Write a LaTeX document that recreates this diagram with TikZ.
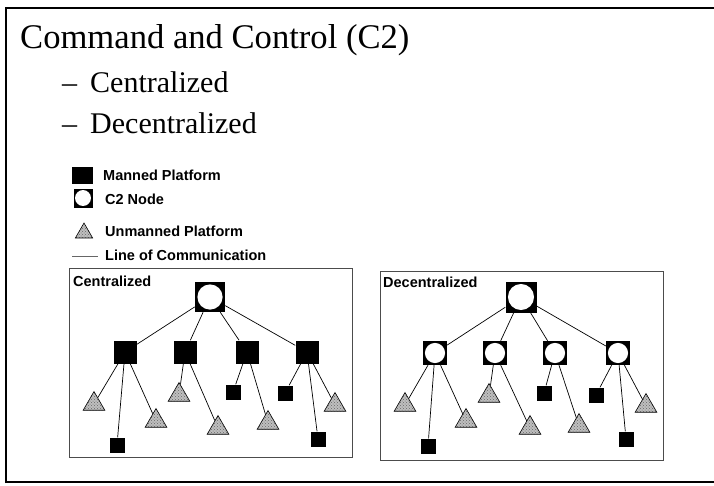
\documentclass[tikz,border=0pt]{standalone}
\usepackage{fontspec}
\setmainfont{Liberation Serif}
\newfontfamily\lsans{Liberation Sans}
\usetikzlibrary{shapes.geometric,patterns}
\tikzset{
  manned/.style={rectangle, fill=black, inner sep=0pt, minimum size=#1},
  manned/.default=15pt,
  c2/.style={rectangle, fill=black, inner sep=0pt, minimum size=#1,
    path picture={\fill[white] (path picture bounding box.center) circle ({0.42*#1});}},
  c2/.default=24pt,
  unm/.style={regular polygon, regular polygon sides=3, preaction={fill=gray!50}, pattern=crosshatch dots, pattern color=black!60, draw=black, line width=0.6pt, inner sep=0pt, minimum size=#1},
  unm/.default=25pt,
  comm/.style={line width=0.7pt, black},
  panel/.style={draw=black!70, line width=1.2pt},
  lab/.style={font=\lsans\bfseries\fontsize{14.5}{16}\selectfont, inner sep=0pt},
  frameline/.style={line width=2.8pt, black}
}
\begin{document}
\begin{tikzpicture}[x=1pt, y=-1pt]
\useasboundingbox (0,0) rectangle (714,485);
% slide frame
\coordinate (f1) at (6,483);
\coordinate (f2) at (6,8);
\coordinate (f3) at (714,8);
\coordinate (f4) at (6,482);
\coordinate (f5) at (714,482);
\draw[frameline] (f1) -- (f2) -- (f3);
\draw[frameline] (f4) -- (f5);
% titles
\node[anchor=base west, inner sep=0pt, font=\fontsize{34.6}{40}\selectfont] (title) at (20,48) {Command and Control (C2)};
\node[anchor=base west, inner sep=0pt, font=\fontsize{30}{36}\selectfont] (d1) at (62,92) {–};
\node[anchor=base west, inner sep=0pt, font=\fontsize{30}{36}\selectfont] (s1) at (90,92) {Centralized};
\node[anchor=base west, inner sep=0pt, font=\fontsize{30}{36}\selectfont] (d2) at (62,133) {–};
\node[anchor=base west, inner sep=0pt, font=\fontsize{30}{36}\selectfont] (s2) at (90,133) {Decentralized};
% legend
\node[manned, minimum width=21pt, minimum height=17pt] (lm) at (82.5,175) {};
\node[lab, anchor=west] (lmt) at (103,175) {Manned Platform};
\node[c2=19pt] (lc) at (83,198) {};
\node[lab, anchor=west] (lct) at (105,199) {C2 Node};
\node[unm=20pt] (lu) at (84,233) {};
\node[lab, anchor=west] (lut) at (105,231) {Unmanned Platform};
\coordinate (ll1) at (72,256);
\coordinate (ll2) at (98,256);
\draw[line width=0.6pt, black!60] (ll1) -- (ll2);
\node[lab, anchor=west] (llt) at (105,255) {Line of Communication};
% panels
\node[panel, rectangle, minimum width=283pt, minimum height=189pt, anchor=north west, inner sep=0pt] (pc) at (69,268) {};
\node[panel, rectangle, minimum width=283pt, minimum height=189pt, anchor=north west, inner sep=0pt] (pd) at (380,271) {};
\node[lab, anchor=base west] (pcl) at (73,286) {Centralized};
\node[lab, anchor=base west] (pdl) at (383,287) {Decentralized};
% ---------------- centralized tree
\node[c2=30pt] (T) at (210,297) {};
\node[manned=23pt] (A1) at (125,352) {};
\node[manned=23pt] (A2) at (185,352) {};
\node[manned=23pt] (A3) at (247,352) {};
\node[manned=23pt] (A4) at (307,352) {};
\node[unm] (a11) at (94,404) {};
\node[manned] (a12) at (117,445) {};
\node[unm] (a13) at (156,421) {};
\node[unm] (a21) at (179,395) {};
\node[unm] (a22) at (218,428) {};
\node[manned] (a31) at (233,392) {};
\node[unm] (a32) at (268,423) {};
\node[manned] (a41) at (285,393) {};
\node[manned] (a42) at (318,439) {};
\node[unm] (a43) at (335,405) {};
\foreach \c in {A1,A2,A3,A4} \draw[comm] (T) -- (\c);
\foreach \p/\c in {A1/a11,A1/a12,A1/a13,A2/a21,A2/a22,A3/a31,A3/a32,A4/a41,A4/a42,A4/a43}
  \draw[comm] (\p) -- (\c);
% ---------------- decentralized tree
\node[c2=31pt] (U) at (521,297) {};
\node[c2] (B1) at (435,353) {};
\node[c2] (B2) at (495,353) {};
\node[c2] (B3) at (555,353) {};
\node[c2] (B4) at (618,353) {};
\node[unm] (b11) at (405,405) {};
\node[manned] (b12) at (428,446) {};
\node[unm] (b13) at (466,421) {};
\node[unm] (b21) at (489,396) {};
\node[unm] (b22) at (530,428) {};
\node[manned] (b31) at (544,393) {};
\node[unm] (b32) at (579,426) {};
\node[manned] (b41) at (596,395) {};
\node[manned] (b42) at (626,439) {};
\node[unm] (b43) at (646,406) {};
\foreach \c in {B1,B2,B3,B4} \draw[comm] (U) -- (\c);
\foreach \p/\c in {B1/b11,B1/b12,B1/b13,B2/b21,B2/b22,B3/b31,B3/b32,B4/b41,B4/b42,B4/b43}
  \draw[comm] (\p) -- (\c);
\end{tikzpicture}
\end{document}
